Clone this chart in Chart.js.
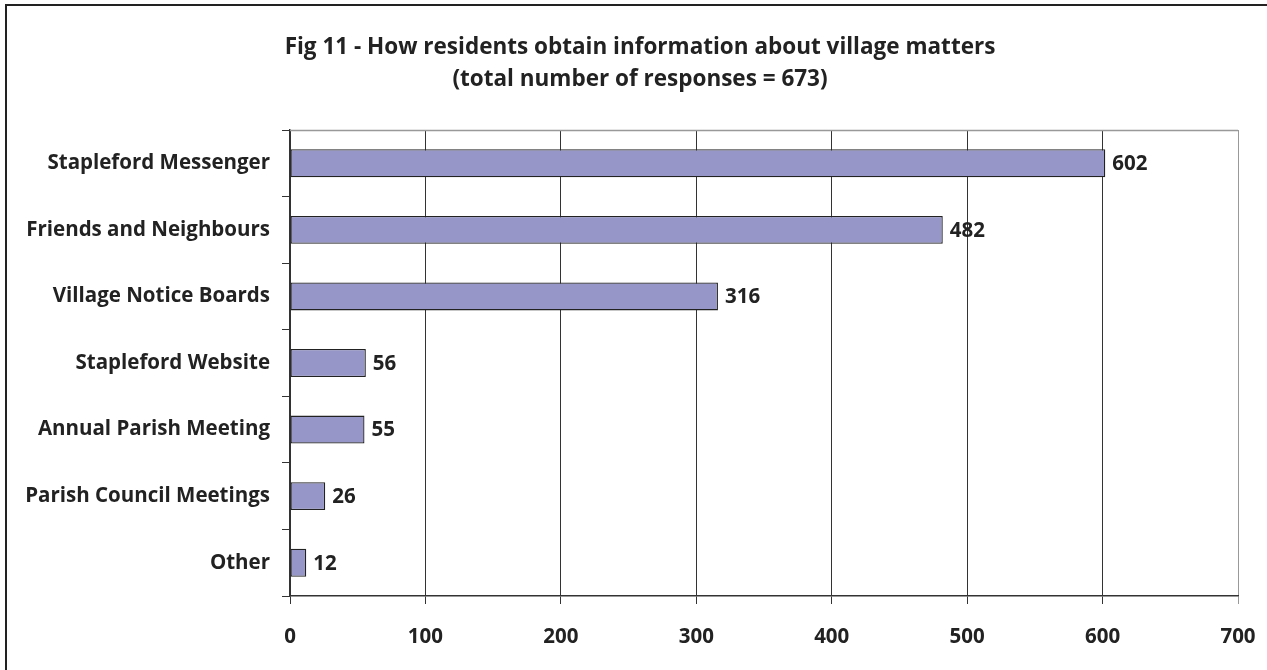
<!DOCTYPE html>
<html><head><meta charset="utf-8">
<script src="https://cdn.jsdelivr.net/npm/chart.js@4.4.1/dist/chart.umd.min.js"></script>
<style>html,body{margin:0;padding:0;background:#fff;}#wrap{width:1267px;height:670px;position:relative;}</style>
</head><body><div id="wrap"><canvas id="c" width="1267" height="670"></canvas></div>
<script>
const titleLines = ["Fig 11 - How residents obtain information about village matters", "(total number of responses = 673)"];
const categories = ["Stapleford Messenger","Friends and Neighbours","Village Notice Boards","Stapleford Website","Annual Parish Meeting","Parish Council Meetings","Other"];
const values = [602,482,316,56,55,26,12];
const xTicks = [0,100,200,300,400,500,600,700];

const FONT = "'Open Sans', sans-serif";
const frameTitle = {
  id:'frameTitle',
  beforeDraw(chart){
    const c = chart.ctx;
    c.save();
    c.fillStyle='#fff'; c.fillRect(0,0,chart.width,chart.height);
    c.strokeStyle='#222'; c.lineWidth=2;
    c.strokeRect(6,5,chart.width+20,chart.height+20);
    c.fillStyle='#222'; c.textAlign='center'; c.textBaseline='alphabetic';
    c.font = "bold 22.5px " + FONT;
    c.fillText(titleLines[0], 640, 54);
    c.fillText(titleLines[1], 640, 86);
    c.restore();
  },
  afterDatasetsDraw(chart){
    const c = chart.ctx, a = chart.chartArea;
    c.save();
    c.strokeStyle='#999'; c.lineWidth=1.5;
    c.beginPath(); c.moveTo(a.left, a.top+0.5); c.lineTo(a.right, a.top+0.5); c.stroke();
    c.fillStyle='#222'; c.font="bold 20.5px " + FONT; c.textAlign='left'; c.textBaseline='middle';
    chart.getDatasetMeta(0).data.forEach((b,i)=>{
      c.fillText(String(values[i]), b.x+7, b.y+1);
    });
    c.restore();
  }
};

new Chart(document.getElementById('c'), {
  type:'bar',
  data:{labels:categories, datasets:[{data:values, backgroundColor:'#9696C8', borderColor:'#222', borderWidth:1.3, categoryPercentage:1, barPercentage:0.42, borderSkipped:false}]},
  options:{
    indexAxis:'y', responsive:false, animation:false, devicePixelRatio:1,
    layout:{padding:{left:0,right:29,top:130,bottom:0}},
    plugins:{legend:{display:false}, tooltip:{enabled:false}, title:{display:false}},
    scales:{
      x:{min:0,max:700,
        afterBuildTicks(s){ s.ticks = xTicks.map(v=>({value:v})); },
        afterFit(s){ s.height = 74; s.paddingRight = 0; s.paddingLeft = 0; },
        grid:{color:(ctx)=> ctx.tick && ctx.tick.value===700 ? '#999' : '#333', lineWidth:1, tickLength:8, tickColor:(ctx)=> ctx.tick && ctx.tick.value===700 ? '#999' : '#333'},
        border:{color:'#333', width:1.5},
        ticks:{color:'#222', font:{family:FONT, size:20.5, weight:'bold'}, padding:21}
      },
      y:{
        afterFit(s){ s.width = 290; },
        grid:{offset:true, drawOnChartArea:false, tickLength:8, tickColor:'#333'},
        border:{color:'#333', width:1.5},
        ticks:{color:'#222', font:{family:FONT, size:20.5, weight:'bold'}, padding:12}
      }
    }
  },
  plugins:[frameTitle]
});
</script></body></html>
